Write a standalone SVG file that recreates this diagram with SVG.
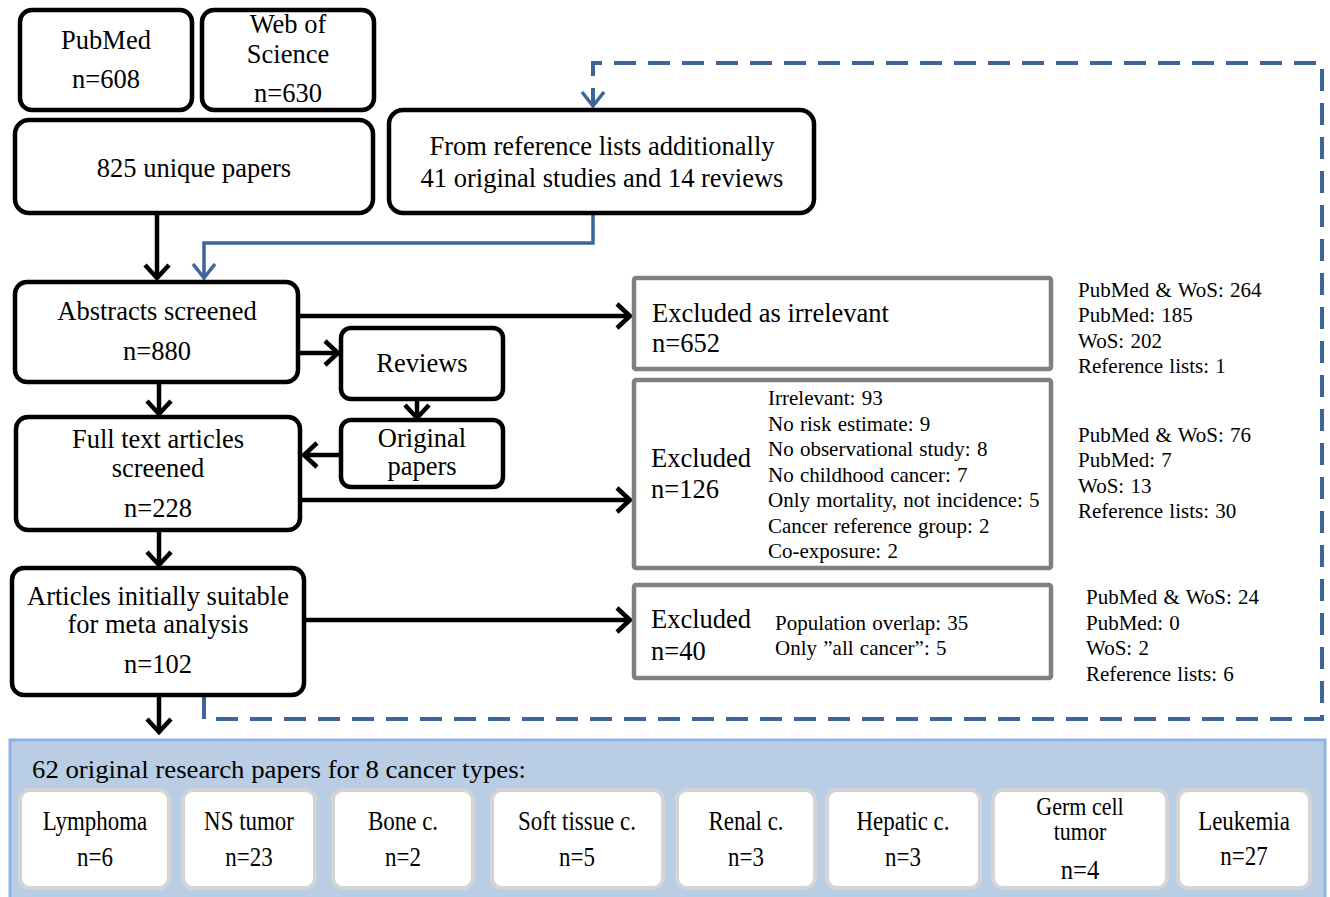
<svg xmlns="http://www.w3.org/2000/svg" width="1330" height="897" viewBox="0 0 1330 897">
<defs>
<style>
text{font-family:"Liberation Serif","Times New Roman",serif;fill:#000}
.m{font-size:26.5px;text-anchor:middle}
.ml{font-size:26.5px}
.s{font-size:21px;word-spacing:1px}
.b{font-size:28px;text-anchor:middle}
.bs{font-size:25px;text-anchor:middle}
.box{fill:#fff;stroke:#000;stroke-width:4.5}
.gbox{fill:#fff;stroke:#808080;stroke-width:4.5}
.ibox{fill:#fff;stroke:#d4d4d4;stroke-width:4}
.ar{fill:none;stroke:#000;stroke-width:4.5}
.bl{fill:none;stroke:#3b6699;stroke-width:3.5}
.dash{fill:none;stroke:#3b6699;stroke-width:4;stroke-dasharray:22 12}
</style>
<marker id="ah" markerUnits="userSpaceOnUse" markerWidth="30" markerHeight="30" viewBox="-16 -15 20 30" refX="0" refY="0" orient="auto" overflow="visible">
<path d="M-13,-12 L0,0 L-13,12" fill="none" stroke="#000" stroke-width="4.5"/>
</marker>
<marker id="bh" markerUnits="userSpaceOnUse" markerWidth="30" markerHeight="30" viewBox="-16 -15 20 30" refX="0" refY="0" orient="auto" overflow="visible">
<path d="M-14,-11 L0,0 L-14,11" fill="none" stroke="#3b6699" stroke-width="3.5"/>
</marker>
</defs>
<rect width="1330" height="897" fill="#fff"/>

<g id="connectors">
<path class="dash" d="M204,697 L204,719 L1322,719 L1322,63 L593,63 L593,106" marker-end="url(#bh)"/>
<path class="bl" d="M593,213 L593,243 L204,243 L204,278" marker-end="url(#bh)"/>
<path class="ar" d="M157,213 L157,278" marker-end="url(#ah)"/>
<path class="ar" d="M298,316 L630,316" marker-end="url(#ah)"/>
<path class="ar" d="M298,353 L338,353" marker-end="url(#ah)"/>
<path class="ar" d="M159,382 L159,414" marker-end="url(#ah)"/>
<path class="ar" d="M417,399 L417,418" marker-end="url(#ah)"/>
<path class="ar" d="M341,455 L304,455" marker-end="url(#ah)"/>
<path class="ar" d="M300,500 L630,500" marker-end="url(#ah)"/>
<path class="ar" d="M159,530 L159,565" marker-end="url(#ah)"/>
<path class="ar" d="M304,620 L630,620" marker-end="url(#ah)"/>
<path class="ar" d="M159,695 L159,732" marker-end="url(#ah)"/>
</g>

<g id="pubmed">
<rect class="box" x="20" y="10" width="172" height="100" rx="12"/>
<text class="m" x="106" y="49">PubMed</text>
<text class="m" x="106" y="88">n=608</text>
</g>
<g id="wos">
<rect class="box" x="202" y="10" width="172" height="100" rx="12"/>
<text class="m" x="288" y="33">Web of</text>
<text class="m" x="288" y="63">Science</text>
<text class="m" x="288" y="102">n=630</text>
</g>
<g id="unique">
<rect class="box" x="15" y="120" width="358" height="93" rx="14"/>
<text class="m" x="194" y="177">825 unique papers</text>
</g>
<g id="reflists">
<rect class="box" x="389" y="110" width="425" height="103" rx="14"/>
<text class="m" x="602" y="155">From reference lists additionally</text>
<text class="m" x="602" y="187">41 original studies and 14 reviews</text>
</g>
<g id="abstracts">
<rect class="box" x="15" y="282" width="283" height="100" rx="12"/>
<text class="m" x="157" y="320">Abstracts screened</text>
<text class="m" x="157" y="360">n=880</text>
</g>
<g id="reviews">
<rect class="box" x="341" y="328" width="162" height="71" rx="10"/>
<text class="m" x="422" y="372">Reviews</text>
</g>
<g id="original">
<rect class="box" x="341" y="420" width="162" height="67" rx="10"/>
<text class="m" x="422" y="447">Original</text>
<text class="m" x="422" y="475">papers</text>
</g>
<g id="fulltext">
<rect class="box" x="16" y="417" width="284" height="113" rx="12"/>
<text class="m" x="158" y="448">Full text articles</text>
<text class="m" x="158" y="477">screened</text>
<text class="m" x="158" y="517">n=228</text>
</g>
<g id="articles">
<rect class="box" x="12" y="568" width="292" height="127" rx="12"/>
<text class="m" x="158" y="605">Articles initially suitable</text>
<text class="m" x="158" y="633">for meta analysis</text>
<text class="m" x="158" y="673">n=102</text>
</g>

<g id="excl1">
<rect class="gbox" x="634" y="278" width="417" height="91" rx="2"/>
<text class="ml" x="652" y="322">Excluded as irrelevant</text>
<text class="ml" x="652" y="352">n=652</text>
</g>
<g id="excl2">
<rect class="gbox" x="634" y="380" width="417" height="188" rx="2"/>
<text class="ml" x="651" y="467">Excluded</text>
<text class="ml" x="651" y="498">n=126</text>
<text class="s" x="768" y="405">Irrelevant: 93</text>
<text class="s" x="768" y="431">No risk estimate: 9</text>
<text class="s" x="768" y="456">No observational study: 8</text>
<text class="s" x="768" y="482">No childhood cancer: 7</text>
<text class="s" x="768" y="507">Only mortality, not incidence: 5</text>
<text class="s" x="768" y="533">Cancer reference group: 2</text>
<text class="s" x="768" y="558">Co-exposure: 2</text>
</g>
<g id="excl3">
<rect class="gbox" x="634" y="585" width="417" height="93" rx="2"/>
<text class="ml" x="651" y="628">Excluded</text>
<text class="ml" x="651" y="660">n=40</text>
<text class="s" x="775" y="630">Population overlap: 35</text>
<text class="s" x="775" y="655">Only ”all cancer”: 5</text>
</g>

<g id="side1">
<text class="s" x="1078" y="297">PubMed &amp; WoS: 264</text>
<text class="s" x="1078" y="322">PubMed: 185</text>
<text class="s" x="1078" y="348">WoS: 202</text>
<text class="s" x="1078" y="373">Reference lists: 1</text>
</g>
<g id="side2">
<text class="s" x="1078" y="442">PubMed &amp; WoS: 76</text>
<text class="s" x="1078" y="467">PubMed: 7</text>
<text class="s" x="1078" y="493">WoS: 13</text>
<text class="s" x="1078" y="518">Reference lists: 30</text>
</g>
<g id="side3">
<text class="s" x="1086" y="604">PubMed &amp; WoS: 24</text>
<text class="s" x="1086" y="630">PubMed: 0</text>
<text class="s" x="1086" y="655">WoS: 2</text>
<text class="s" x="1086" y="681">Reference lists: 6</text>
</g>

<g id="results">
<rect x="10" y="740" width="1315" height="160" fill="#b9cde4" stroke="#8db3e2" stroke-width="3"/>
<text x="32" y="778" font-size="25" textLength="494" lengthAdjust="spacingAndGlyphs">62 original research papers for 8 cancer types:</text>
</g>
<g id="lymphoma">
<rect class="ibox" x="20" y="790" width="149" height="98" rx="10"/>
<g transform="translate(95 0) scale(0.82 1)"><text class="b" x="0" y="830">Lymphoma</text><text class="b" x="0" y="866">n=6</text></g>
</g>
<g id="nstumor">
<rect class="ibox" x="183" y="790" width="132" height="98" rx="10"/>
<g transform="translate(249 0) scale(0.82 1)"><text class="b" x="0" y="830">NS tumor</text><text class="b" x="0" y="866">n=23</text></g>
</g>
<g id="bone">
<rect class="ibox" x="333" y="790" width="140" height="98" rx="10"/>
<g transform="translate(403 0) scale(0.82 1)"><text class="b" x="0" y="830">Bone c.</text><text class="b" x="0" y="866">n=2</text></g>
</g>
<g id="softtissue">
<rect class="ibox" x="492" y="790" width="171" height="98" rx="10"/>
<g transform="translate(577 0) scale(0.82 1)"><text class="b" x="0" y="830">Soft tissue c.</text><text class="b" x="0" y="866">n=5</text></g>
</g>
<g id="renal">
<rect class="ibox" x="677" y="790" width="138" height="98" rx="10"/>
<g transform="translate(746 0) scale(0.82 1)"><text class="b" x="0" y="830">Renal c.</text><text class="b" x="0" y="866">n=3</text></g>
</g>
<g id="hepatic">
<rect class="ibox" x="827" y="790" width="153" height="98" rx="10"/>
<g transform="translate(903 0) scale(0.82 1)"><text class="b" x="0" y="830">Hepatic c.</text><text class="b" x="0" y="866">n=3</text></g>
</g>
<g id="germcell">
<rect class="ibox" x="993" y="790" width="174" height="98" rx="10"/>
<g transform="translate(1080 0) scale(0.88 1)"><text class="bs" x="0" y="815">Germ cell</text><text class="bs" x="0" y="840">tumor</text><text class="b" x="0" y="879">n=4</text></g>
</g>
<g id="leukemia">
<rect class="ibox" x="1178" y="790" width="132" height="98" rx="10"/>
<g transform="translate(1244 0) scale(0.82 1)"><text class="b" x="0" y="830">Leukemia</text><text class="b" x="0" y="865">n=27</text></g>
</g>
</svg>
